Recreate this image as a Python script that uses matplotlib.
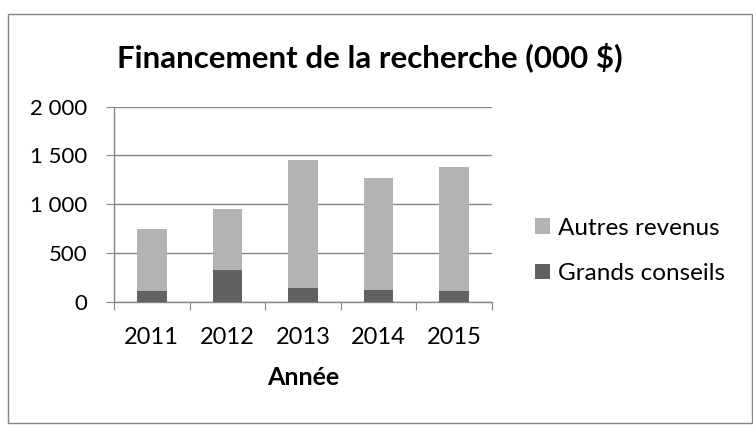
import matplotlib
matplotlib.use("Agg")
import matplotlib.pyplot as plt
from matplotlib.patches import Rectangle
import numpy as np

years = ["2011", "2012", "2013", "2014", "2015"]
grands_conseils = [110, 325, 144, 117, 110]
autres_revenus = [635, 623, 1309, 1152, 1268]
yticks = [0, 500, 1000, 1500, 2000]
ytick_labels = ["0", "500", "1 000", "1 500", "2 000"]

plt.rcParams['font.family'] = ['Lato', 'DejaVu Sans']

fig = plt.figure(figsize=(7.53, 4.30), dpi=100)
fig.patches.append(Rectangle((8/753, 7/430), 744/753, 409/430, transform=fig.transFigure,
                             fill=False, edgecolor='#868686', linewidth=1.0))

ax = fig.add_axes([114/753, 1-301.7/430, (492-114)/753, (301.7-106.7)/430])
x = np.arange(len(years))
w = 0.39
c_dark = '#616161'
c_light = '#b3b3b3'
ax.bar(x, grands_conseils, width=w, color=c_dark, label='Grands conseils', zorder=3)
ax.bar(x, autres_revenus, width=w, bottom=grands_conseils, color=c_light, label='Autres revenus', zorder=3)

ax.set_xlim(-0.5, len(years)-0.5)
ax.set_ylim(0, 2000)
ax.set_yticks(yticks)
ax.set_yticklabels(ytick_labels, fontsize=16)
ax.yaxis.grid(True, color='#868686', linewidth=1.0, zorder=0)
ax.set_axisbelow(True)

ax.set_xticks(np.arange(-0.5, len(years), 1.0))
ax.set_xticklabels([])
ax.set_xticks(x, minor=True)
ax.set_xticklabels(years, minor=True, fontsize=17)
ax.tick_params(axis='x', which='major', length=6, color='#868686', direction='out')
ax.tick_params(axis='x', which='minor', length=0, pad=18)
ax.tick_params(axis='y', length=6, color='#868686', direction='out', pad=13)

for s in ['top', 'right']:
    ax.spines[s].set_visible(False)
for s in ['left', 'bottom']:
    ax.spines[s].set_color('#868686')
    ax.spines[s].set_linewidth(1.0)

ax.set_xlabel('Année', fontsize=18, fontweight='bold', labelpad=13)

fig.text(370/753, 1-57/430, 'Financement de la recherche (000 $)', ha='center', va='center',
         fontsize=22.5, fontweight='bold')

handles, labels = ax.get_legend_handles_labels()
leg = fig.legend(handles[::-1], labels[::-1], loc='center left', bbox_to_anchor=(513/753, 1-251/430),
                 frameon=False, fontsize=17.5, handlelength=0.62, handleheight=0.62,
                 handletextpad=0.35, labelspacing=1.0)

fig.savefig('out.png', dpi=100)
